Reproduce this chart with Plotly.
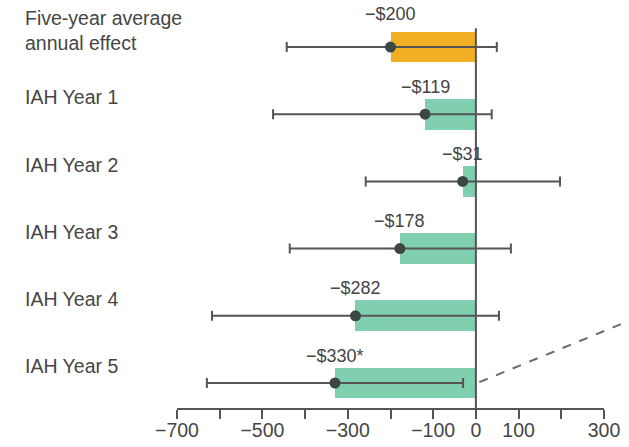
import plotly.graph_objects as go

# Estimated effect per period (dollars) with 95% confidence bounds
rows = ["Five-year average<br>annual effect", "IAH Year 1", "IAH Year 2",
        "IAH Year 3", "IAH Year 4", "IAH Year 5"]
effects = [-200, -119, -31, -178, -282, -330]
ci_low = [-443, -475, -258, -436, -618, -630]
ci_high = [49, 37, 197, 82, 54, -30]
significant = [False, False, False, False, False, True]

tick_vals = [-700, -600, -500, -400, -300, -200, -100, 0, 100, 200, 300]
tick_text = ["\u2212700", "", "\u2212500", "", "\u2212300", "", "\u2212100", "0", "100", "", "300"]

ORANGE = "#F1B024"
GREEN = "#80CFB0"
GREY = "#555555"
TEXT = "#464646"
FONT = "Liberation Sans, Arial, sans-serif"

BAR_W = 0.46
pos = list(range(len(rows)))
bar_colors = [ORANGE] + [GREEN] * (len(rows) - 1)

fig = go.Figure()

fig.add_trace(go.Bar(
    x=effects, y=pos, orientation="h", width=BAR_W,
    marker=dict(color=bar_colors, line=dict(width=0)),
    hoverinfo="skip", showlegend=False,
))

fig.add_trace(go.Scatter(
    x=effects, y=pos, mode="markers",
    marker=dict(size=11, color="#3c4743"),
    error_x=dict(type="data", symmetric=False,
                 array=[h - e for h, e in zip(ci_high, effects)],
                 arrayminus=[e - l for e, l in zip(effects, ci_low)],
                 color=GREY, thickness=2, width=5),
    showlegend=False, hoverinfo="skip",
))

# value labels above each bar
for p, v, s in zip(pos, effects, significant):
    label = "\u2212$" + str(abs(v)) + ("*" if s else "")
    fig.add_annotation(x=v, y=p - BAR_W / 2, xref="x", yref="y",
                       text=label, showarrow=False, xanchor="center", yanchor="bottom",
                       yshift=(6 if p == 0 else 0),
                       font=dict(family=FONT, size=18, color="#444444"))

# row labels, left aligned
for p, name in zip(pos, rows):
    fig.add_annotation(x=-0.36, y=p - 0.25, xref="paper", yref="y",
                       text=name, showarrow=False, xanchor="left", yanchor="middle",
                       align="left",
                       font=dict(family=FONT, size=19.5, color=TEXT))

# zero reference line
fig.add_shape(type="line", xref="x", yref="y", x0=0, x1=0, y0=-0.28, y1=5.372,
              line=dict(color=GREY, width=2), layer="above")

# dashed connector leading off to the right
fig.add_shape(type="line", xref="paper", yref="paper",
              x0=0.708, y0=0.068, x1=1.06, y1=0.23,
              line=dict(color="#6a6a6a", width=2, dash="dash"))

fig.update_layout(
    width=629, height=447,
    margin=dict(l=177, r=25, t=28, b=39, autoexpand=False),
    plot_bgcolor="white", paper_bgcolor="white",
    bargap=0,
    xaxis=dict(range=[-700, 300], tickvals=tick_vals, ticktext=tick_text,
               automargin=False, showgrid=False, zeroline=False,
               showline=True, linecolor=GREY, linewidth=2,
               ticks="outside", ticklen=9, tickwidth=2, tickcolor=GREY,
               ticklabelstandoff=-5,
               tickfont=dict(family=FONT, size=19.5, color=TEXT)),
    yaxis=dict(range=[5.372, -0.283], showticklabels=False, showgrid=False,
               automargin=False, zeroline=False, showline=False, ticks=""),
)

fig.write_html("out.html")
